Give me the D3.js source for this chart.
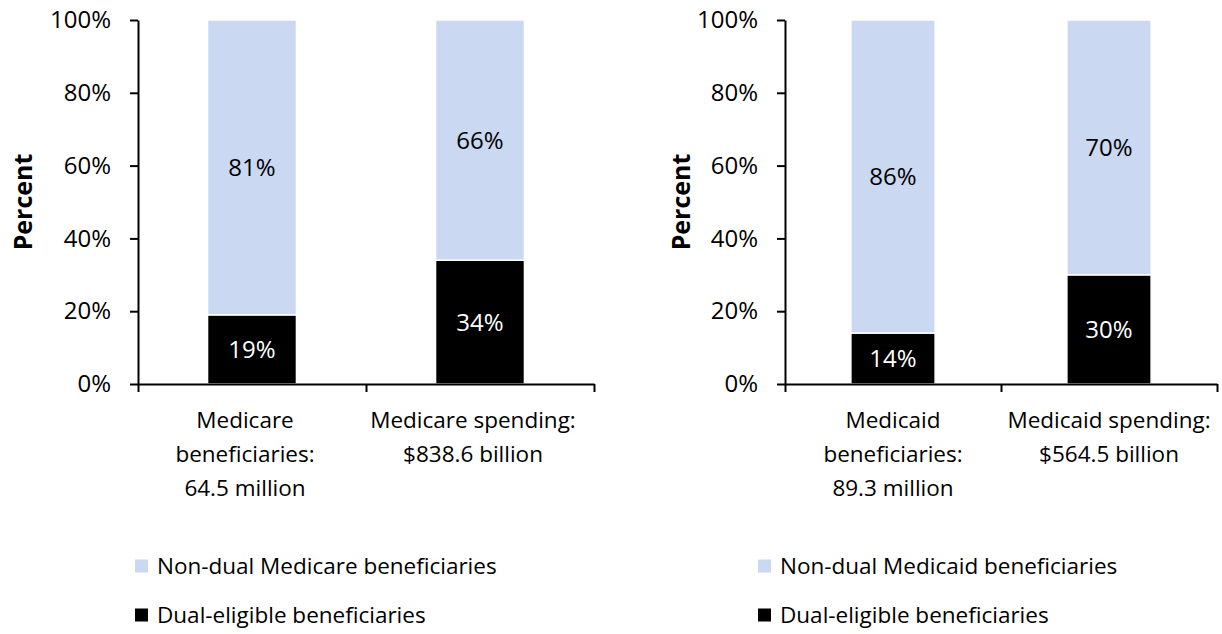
<!DOCTYPE html>
<html>
<head>
<meta charset="utf-8">
<script src="https://cdn.jsdelivr.net/npm/d3@7"></script>
<style>
    body { margin: 0; background: #fff; }
    text { font-family: "Open Sans", sans-serif; fill: #000; }
</style>
</head>
<body>
<div id="chart"></div>
<script>
// ---------- data ----------
const yTicks = [0, 20, 40, 60, 80, 100];
const seriesKeys = ['dual', 'nonDual'];

const medicareCategories = [['Medicare', 'beneficiaries:', '64.5 million'], ['Medicare spending:', '$838.6 billion']];
const medicareDual = [19, 34];
const medicareNonDual = [81, 66];
const medicareLegend = ['Non-dual Medicare beneficiaries', 'Dual-eligible beneficiaries'];

const medicaidCategories = [['Medicaid', 'beneficiaries:', '89.3 million'], ['Medicaid spending:', '$564.5 billion']];
const medicaidDual = [14, 30];
const medicaidNonDual = [86, 70];
const medicaidLegend = ['Non-dual Medicaid beneficiaries', 'Dual-eligible beneficiaries'];

// ---------- look ----------
const W = 1222, H = 634;
const colors = { dual: '#000000', nonDual: '#cad8f2' };
const textSize = 22.5,   // words
      numSize = 24;      // tick and value labels

const svg = d3.select('#chart').append('svg')
    .attr('width', W)
    .attr('height', H);

const panels = [
    { categories: medicareCategories, dual: medicareDual, nonDual: medicareNonDual, legend: medicareLegend,
      x0: 138, x1: 594, titleX: 32, labelShift: -7, legendX: 135 },
    { categories: medicaidCategories, dual: medicaidDual, nonDual: medicaidNonDual, legend: medicaidLegend,
      x0: 785, x1: 1217, titleX: 690, labelShift: 0, legendX: 758 }
];

const y = d3.scaleLinear().domain([0, 100]).range([384, 20]);

panels.forEach(p => drawPanel(p));

function drawPanel(p) {
    const g = svg.append('g');
    const rows = p.categories.map((c, i) => ({ i: i, dual: p.dual[i], nonDual: p.nonDual[i] }));

    const x = d3.scaleBand()
        .domain(rows.map(d => d.i))
        .range([p.x0, p.x1])
        .paddingInner(0.61)
        .paddingOuter(0.305);

    // boundaries for the category ticks
    const xb = d3.scaleLinear().domain([0, rows.length]).range([p.x0, p.x1]);

    const stacked = d3.stack().keys(seriesKeys)(rows);

    g.selectAll('g.series')
        .data(stacked)
        .enter().append('g')
        .attr('class', 'series')
        .attr('fill', d => colors[d.key])
        .selectAll('rect')
        .data(d => d)
        .enter().append('rect')
        .attr('x', d => x(d.data.i))
        .attr('width', x.bandwidth())
        .attr('y', d => y(d[1]))
        .attr('height', d => y(d[0]) - y(d[1]))
        .attr('stroke', '#fff')
        .attr('stroke-width', 1.5);

    // value labels
    stacked.forEach(s => {
        g.selectAll(null)
            .data(s)
            .enter().append('text')
            .attr('x', d => x(d.data.i) + x.bandwidth() / 2)
            .attr('y', d => y((d[0] + d[1]) / 2))
            .attr('dy', '0.35em')
            .attr('text-anchor', 'middle')
            .style('font-size', numSize + 'px')
            .style('fill', s.key === 'dual' ? '#fff' : '#000')
            .text(d => Math.round(d[1] - d[0]) + '%');
    });

    // y axis
    const yAxis = g.append('g')
        .attr('transform', `translate(${p.x0},0)`)
        .call(d3.axisLeft(y).tickValues(yTicks).tickFormat(d => d + '%').tickSize(8).tickSizeOuter(0).tickPadding(19));
    yAxis.select('.domain').attr('stroke-width', 2);
    yAxis.selectAll('.tick line').attr('stroke-width', 2);
    yAxis.selectAll('.tick text')
        .attr('font-family', null)
        .attr('font-size', null)
        .style('font-size', numSize + 'px')
        .attr('fill', '#000');

    // x axis (ticks at band edges)
    const xAxis = g.append('g')
        .attr('transform', `translate(0,${y(0)})`)
        .call(d3.axisBottom(xb).tickValues(d3.range(rows.length + 1)).tickFormat('').tickSize(8).tickSizeOuter(0));
    xAxis.select('.domain').attr('stroke-width', 2);
    xAxis.selectAll('.tick line').attr('stroke-width', 2);

    // category labels
    const lab = g.selectAll('text.cat')
        .data(rows)
        .enter().append('text')
        .attr('class', 'cat')
        .attr('text-anchor', 'middle')
        .style('font-size', textSize + 'px')
        .attr('x', d => x(d.i) + x.bandwidth() / 2 + p.labelShift)
        .attr('y', 428);
    lab.selectAll('tspan')
        .data(d => p.categories[d.i])
        .enter().append('tspan')
        .attr('x', function() { return d3.select(this.parentNode).attr('x'); })
        .attr('dy', (d, j) => j === 0 ? 0 : 34)
        .text(d => d);

    // axis title
    g.append('text')
        .attr('transform', `translate(${p.titleX},${(y(0) + y(100)) / 2}) rotate(-90)`)
        .attr('text-anchor', 'middle')
        .style('font-size', '25px')
        .style('font-weight', 'bold')
        .text('Percent');

    // legend
    const legendKeys = ['nonDual', 'dual'];
    const leg = g.selectAll('g.legend')
        .data(p.legend)
        .enter().append('g')
        .attr('class', 'legend')
        .attr('transform', (d, i) => `translate(${p.legendX},${566 + i * 49})`);
    leg.append('rect')
        .attr('x', 0)
        .attr('y', -6.5)
        .attr('width', 13)
        .attr('height', 13)
        .attr('fill', (d, i) => colors[legendKeys[i]]);
    leg.append('text')
        .attr('x', 22)
        .attr('dy', '0.35em')
        .style('font-size', textSize + 'px')
        .text(d => d);
}
</script>
</body>
</html>
